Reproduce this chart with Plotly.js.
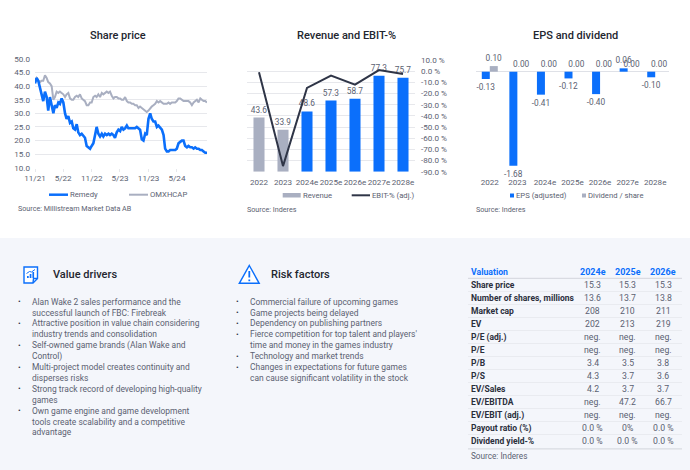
<!DOCTYPE html>
<html>
<head>
<meta charset="utf-8">
<title>Remedy</title>
<script src="https://cdn.plot.ly/plotly-3.0.1.min.js"></script>
<style>
  html, body { margin: 0; padding: 0; background: #fff; }
  #plot { width: 690px; height: 470px; }
</style>
</head>
<body>
<div id="plot"></div>
<script>
// --- Share price ---
const priceStart = '2021-11-01';
const priceEnd = '2024-11-10';
const remedy = [41, 43, 42, 39, 37, 34.5, 38, 36, 31, 36, 33, 30, 33, 32, 34, 33.5, 35.5, 34, 30, 28, 29, 26.5, 27, 24.5, 24, 26, 23, 22, 22.5, 21.5, 21, 18, 17.5, 17, 18, 19, 22, 25, 22.5, 21.5, 22.5, 21.5, 22.5, 22, 22.5, 22, 22.5, 22, 21, 23, 24, 23.5, 25, 24, 24.5, 25.5, 24.5, 24.5, 24.5, 24.5, 24.5, 25, 24.5, 24, 20.5, 20, 22.5, 22, 28, 30, 28, 27, 27, 25, 25.5, 24.5, 24, 22, 17, 16, 16, 16.5, 16.5, 16.5, 16.5, 17, 19, 19.5, 20, 20, 18, 17.5, 18, 17.5, 17.5, 17, 17.5, 17, 17, 16.5, 16.5, 16, 15.5, 15.5];
const omxhcap = [42, 43, 42, 41.5, 42, 42, 44, 43, 41.5, 41, 40, 35, 36, 38, 37.5, 38, 37.5, 37, 36, 37, 37.5, 35.5, 35, 35, 36, 36.5, 36, 37, 35.5, 35, 34.5, 33, 33, 34, 34, 36, 36.5, 36, 37, 36, 37.5, 37, 37.5, 38, 37.5, 38, 36.5, 35.5, 36, 36, 35.5, 35.5, 35, 35, 36, 34.5, 34, 34, 33.5, 33.5, 33, 33, 32, 32.5, 32, 31.5, 31, 30.5, 31, 32, 32.5, 33, 33.5, 34.5, 34, 34.5, 34, 33.5, 33.5, 33.5, 34, 33.5, 34, 34, 34, 34.5, 35.5, 35.5, 35, 34.5, 34.5, 34.5, 34.5, 34, 33, 34, 34.5, 35, 34, 35.5, 35, 34.5, 34.5, 34];
const priceTickVals = ['2021-11-01', '2022-05-01', '2022-11-01', '2023-05-01', '2023-11-01', '2024-05-01'];
const priceTickText = ['11/21', '5/22', '11/22', '5/23', '11/23', '5/24'];

// --- Revenue and EBIT-% ---
const years = ['2022', '2023', '2024e', '2025e', '2026e', '2027e', '2028e'];
const revenue = [43.6, 33.9, 48.6, 57.3, 58.7, 77.3, 75.7];
const ebitPct = [-1, -85, -15, -4, -12, 1, -2.5];
const ebitTicks = [10, 0, -10, -20, -30, -40, -50, -60, -70, -80, -90];
const ebitTickText = ['10.0 %', '0.0 %', '-10.0 %', '-20.0 %', '-30.0 %', '-40.0 %', '-50.0 %', '-60.0 %', '-70.0 %', '-80.0 %', '-90.0 %'];

// --- EPS and dividend ---
const eps = [-0.13, -1.68, -0.41, -0.12, -0.40, 0.06, -0.10];
const dividend = [0.10, 0, 0, 0, 0, 0, 0];

// --- Text panels ---
const valueDrivers = [
    ['Alan Wake 2 sales performance and the', 'successful launch of FBC: Firebreak'],
    ['Attractive position in value chain considering', 'industry trends and consolidation'],
    ['Self-owned game brands (Alan Wake and', 'Control)'],
    ['Multi-project model creates continuity and', 'disperses risks'],
    ['Strong track record of developing high-quality', 'games'],
    ['Own game engine and game development', 'tools create scalability and a competitive', 'advantage']
];
const riskFactors = [
    ['Commercial failure of upcoming games'],
    ['Game projects being delayed'],
    ['Dependency on publishing partners'],
    ['Fierce competition for top talent and players\'', 'time and money in the games industry'],
    ['Technology and market trends'],
    ['Changes in expectations for future games', 'can cause significant volatility in the stock']
];

// --- Valuation table ---
const tableHeader = ['Valuation', '2024e', '2025e', '2026e'];
const tableLabels = ['Share price', 'Number of shares, millions', 'Market cap', 'EV', 'P/E (adj.)', 'P/E', 'P/B', 'P/S', 'EV/Sales', 'EV/EBITDA', 'EV/EBIT (adj.)', 'Payout ratio (%)', 'Dividend yield-%'];
const table2024 = ['15.3', '13.6', '208', '202', 'neg.', 'neg.', '3.4', '4.3', '4.2', 'neg.', 'neg.', '0.0 %', '0.0 %'];
const table2025 = ['15.3', '13.7', '210', '213', 'neg.', 'neg.', '3.5', '3.7', '3.7', '47.2', 'neg.', '0%', '0.0 %'];
const table2026 = ['15.3', '13.8', '211', '219', 'neg.', 'neg.', '3.8', '3.6', '3.7', '66.7', 'neg.', '0.0 %', '0.0 %'];

// --- Estilos ---
const FONT = 'Roboto, sans-serif';
const BLUE = '#0b6ffb';
const GREY = '#a9afc1';
const DARK = '#2f3547';
const TEXT = '#5b6171';
const HEAD = '#23262f';
const GRID = '#e7e8ec';

// pixel -> paper
const fx = px => px / 690;
const fy = py => 1 - py / 470;

function spacedDates(start, end, n) {
    const t0 = Date.parse(start);
    const step = (Date.parse(end) - t0) / (n - 1);
    return Array.from({ length: n }, (_, i) => new Date(t0 + i * step).toISOString().slice(0, 10));
}

const annotations = [];
const shapes = [];

function addText(text, x, y, opts = {}) {
    annotations.push({
        xref: 'paper', yref: 'paper', x: fx(x), y: fy(y),
        text: text,
        showarrow: false, borderpad: 0, borderwidth: 0,
        xanchor: opts.anchor || 'left', yanchor: 'middle',
        font: { family: FONT, size: opts.size || 8.45, color: opts.color || TEXT, weight: opts.weight || 400 }
    });
}

function addRect(x0, y0, x1, y1, color, layer) {
    shapes.push({
        type: 'rect', xref: 'paper', yref: 'paper',
        x0: fx(x0), x1: fx(x1), y0: fy(y0), y1: fy(y1),
        fillcolor: color, line: { width: 0 }, layer: layer || 'above'
    });
}

function addLine(x0, y0, x1, y1, color, width, layer) {
    shapes.push({
        type: 'line', xref: 'paper', yref: 'paper',
        x0: fx(x0), x1: fx(x1), y0: fy(y0), y1: fy(y1),
        line: { color: color, width: width }, layer: layer || 'above'
    });
}

function addPath(points, line, fill) {
    const d = points.map((p, i) => (i ? 'L' : 'M') + fx(p[0]) + ',' + fy(p[1])).join(' ');
    shapes.push({
        type: 'path', xref: 'paper', yref: 'paper', path: d + (fill ? ' Z' : ''),
        line: line, fillcolor: fill || 'rgba(0,0,0,0)'
    });
}

function addBullets(items, bulletX, textX, y0) {
    let y = y0;
    items.forEach(lines => {
        addText('•', bulletX, y, { size: 8, color: DARK, anchor: 'center' });
        lines.forEach(line => {
            addText(line, textX, y);
            y += 10.9;
        });
    });
}

// --- Panel de fondo ---
addRect(0, 238, 690, 470, '#f4f6fb', 'below');

// --- Títulos y fuentes ---
addText('Share price', 118, 35, { size: 11, color: HEAD, anchor: 'center', weight: 500 });
addText('Revenue and EBIT-%', 347, 35, { size: 11, color: HEAD, anchor: 'center', weight: 500 });
addText('EPS and dividend', 575, 35, { size: 11, color: HEAD, anchor: 'center', weight: 500 });
addText('Source: Millistream Market Data AB', 18, 208, { size: 7.2 });
addText('Source: Inderes', 247, 209, { size: 7.2 });
addText('Source: Inderes', 476, 209, { size: 7.2 });

// --- Leyendas ---
addLine(49, 194.7, 68, 194.7, BLUE, 2.5);
addText('Remedy', 70, 194.7, { size: 7.7 });
addLine(129, 194.7, 148, 194.7, GREY, 2);
addText('OMXHCAP', 150, 194.7, { size: 7.7 });

addRect(282.7, 193, 300.7, 197.5, GREY);
addText('Revenue', 302.7, 195.3, { size: 7.7 });
addLine(351.7, 195.3, 370, 195.3, DARK, 2);
addText('EBIT-% (adj.)', 372, 195.3, { size: 7.7 });

addRect(510, 193.5, 514, 197.5, BLUE);
addText('EPS (adjusted)', 516, 195.7, { size: 7.7 });
addRect(582, 193.5, 586, 197.5, GREY);
addText('Dividend / share', 587.7, 195.7, { size: 7.7 });

// --- Panel de texto ---
addText('Value drivers', 53, 274, { size: 11, color: HEAD, weight: 500 });
addText('Risk factors', 270.7, 274, { size: 11, color: HEAD, weight: 500 });
addBullets(valueDrivers, 19, 32, 301.7);
addBullets(riskFactors, 237, 250, 301.7);

// iconos
const iconLine = { color: BLUE, width: 1.4 };
addPath([[24, 267], [37.5, 267], [37.5, 278.5], [33, 283], [24, 283]], iconLine, '#ffffff');
addPath([[37.5, 278.5], [33.5, 278.5], [33, 283]], iconLine);
[[27, 276, 2], [29.7, 274, 4], [32.4, 272, 6]].forEach(b => addRect(b[0], b[1], b[0] + 1.7, b[1] + b[2], BLUE));
addPath([[26.5, 273.5], [29.5, 271.5], [31.5, 272], [35, 269.5]], { color: BLUE, width: 1 });
addPath([[249.3, 265.5], [259.2, 283.3], [239.3, 283.3]], iconLine, '#ffffff');
addLine(249.3, 271, 249.3, 277.5, BLUE, 1.8);
addLine(249.3, 279.5, 249.3, 281.2, BLUE, 1.8);

// --- Tabla ---
const colX = [592.7, 627.7, 663];
addText(tableHeader[0], 471, 271.7, { size: 8.7, color: BLUE, weight: 700 });
tableHeader.slice(1).forEach((h, i) => addText(h, colX[i], 271.7, { size: 9, color: BLUE, weight: 700, anchor: 'center' }));
addLine(468, 278.3, 682, 278.3, '#d9dbe2', 1.2);
const rowTop = 285;
const rowStep = 13;
tableLabels.forEach((label, r) => {
    const y = rowTop + r * rowStep;
    addText(label, 471, y, { size: 8.5, color: '#2b2f3c', weight: 700 });
    [table2024, table2025, table2026].forEach((col, c) => addText(col[r], colX[c], y, { size: 8.7, anchor: 'center' }));
    if (r < tableLabels.length - 1) addLine(468, y + 6.5, 682, y + 6.5, '#e6e8ee', 0.8);
});
addLine(468, 448.8, 682, 448.8, '#d9dbe2', 1.2);
addText('Source: Inderes', 471, 456, { size: 8.2 });

// --- Trazas ---
const labelFont = { family: FONT, size: 8.3, color: TEXT };

const traces = [
    { type: 'scatter', mode: 'lines', xaxis: 'x', yaxis: 'y', name: 'OMXHCAP',
      x: spacedDates(priceStart, priceEnd, omxhcap.length), y: omxhcap, line: { color: GREY, width: 2 } },
    { type: 'scatter', mode: 'lines', xaxis: 'x', yaxis: 'y', name: 'Remedy',
      x: spacedDates(priceStart, priceEnd, remedy.length), y: remedy, line: { color: BLUE, width: 2.6 } },

    { type: 'bar', xaxis: 'x2', yaxis: 'y2', name: 'Revenue', x: years, y: revenue, width: 0.46,
      marker: { color: years.map(y => y.endsWith('e') ? BLUE : GREY) },
      text: revenue.map(v => v.toFixed(1)), textposition: 'outside', cliponaxis: false,
      constraintext: 'none', textfont: labelFont },
    { type: 'scatter', mode: 'lines', xaxis: 'x2', yaxis: 'y3', name: 'EBIT-% (adj.)', x: years, y: ebitPct,
      line: { color: DARK, width: 2 } },

    { type: 'bar', xaxis: 'x3', yaxis: 'y4', name: 'EPS (adjusted)', x: years, y: eps,
      marker: { color: BLUE }, text: eps.map(v => v.toFixed(2)), textposition: 'outside', cliponaxis: false,
      constraintext: 'none', textfont: labelFont },
    { type: 'bar', xaxis: 'x3', yaxis: 'y4', name: 'Dividend / share', x: years, y: dividend,
      marker: { color: GREY }, text: dividend.map(v => v.toFixed(2)), textposition: 'outside', cliponaxis: false,
      constraintext: 'none', textfont: labelFont }
];

const tickFont = { family: FONT, size: 8.1, color: TEXT };

const layout = {
    width: 690,
    height: 470,
    margin: { l: 0, r: 0, t: 0, b: 0, pad: 0 },
    paper_bgcolor: '#ffffff',
    plot_bgcolor: 'rgba(0,0,0,0)',
    showlegend: false,
    barmode: 'group',
    bargap: 0.42,
    bargroupgap: 0,
    font: { family: FONT },
    annotations: annotations,
    shapes: shapes,

    xaxis: {
        type: 'date', domain: [fx(35), fx(207)], anchor: 'y', range: [priceStart, priceEnd],
        tickmode: 'array', tickvals: priceTickVals, ticktext: priceTickText, tickangle: 0,
        showgrid: false, zeroline: false, showline: false,
        ticks: 'outside', ticklen: 3, tickcolor: GRID, tickfont: tickFont
    },
    yaxis: {
        domain: [fy(167.7), fy(59)], anchor: 'x', range: [10, 50], dtick: 5, tick0: 10,
        tickformat: '.1f', gridcolor: GRID, gridwidth: 1, zeroline: false, showline: false,
        ticks: '', ticklabelstandoff: 4, tickfont: tickFont
    },

    xaxis2: {
        type: 'category', domain: [fx(247), fx(415)], anchor: 'y2', tickangle: 0,
        showgrid: false, zeroline: false, showline: false, ticks: '', ticklabelstandoff: 4, tickfont: tickFont
    },
    yaxis2: {
        domain: [fy(171.7), fy(60)], anchor: 'x2', range: [0, 90],
        showgrid: false, zeroline: false, showticklabels: false, ticks: ''
    },
    yaxis3: {
        domain: [fy(171.7), fy(60)], anchor: 'x2', overlaying: 'y2', side: 'right', range: [-90, 10],
        tickmode: 'array', tickvals: ebitTicks, ticktext: ebitTickText,
        gridcolor: GRID, gridwidth: 1, zeroline: false, showline: false, ticks: '',
        ticklabelstandoff: 5, tickfont: tickFont
    },

    xaxis3: {
        type: 'category', domain: [fx(476), fx(669)], anchor: 'y4', tickangle: 0,
        showgrid: false, zeroline: false, showline: false, ticks: '', ticklabelstandoff: 4, tickfont: tickFont
    },
    yaxis4: {
        domain: [fy(172), fy(56)], anchor: 'x3', range: [-1.79, 0.28],
        showgrid: false, showticklabels: false, ticks: '', showline: false,
        zeroline: true, zerolinecolor: '#dfe1e7', zerolinewidth: 1
    }
};

Plotly.newPlot('plot', traces, layout, { displayModeBar: false });
</script>
</body>
</html>
